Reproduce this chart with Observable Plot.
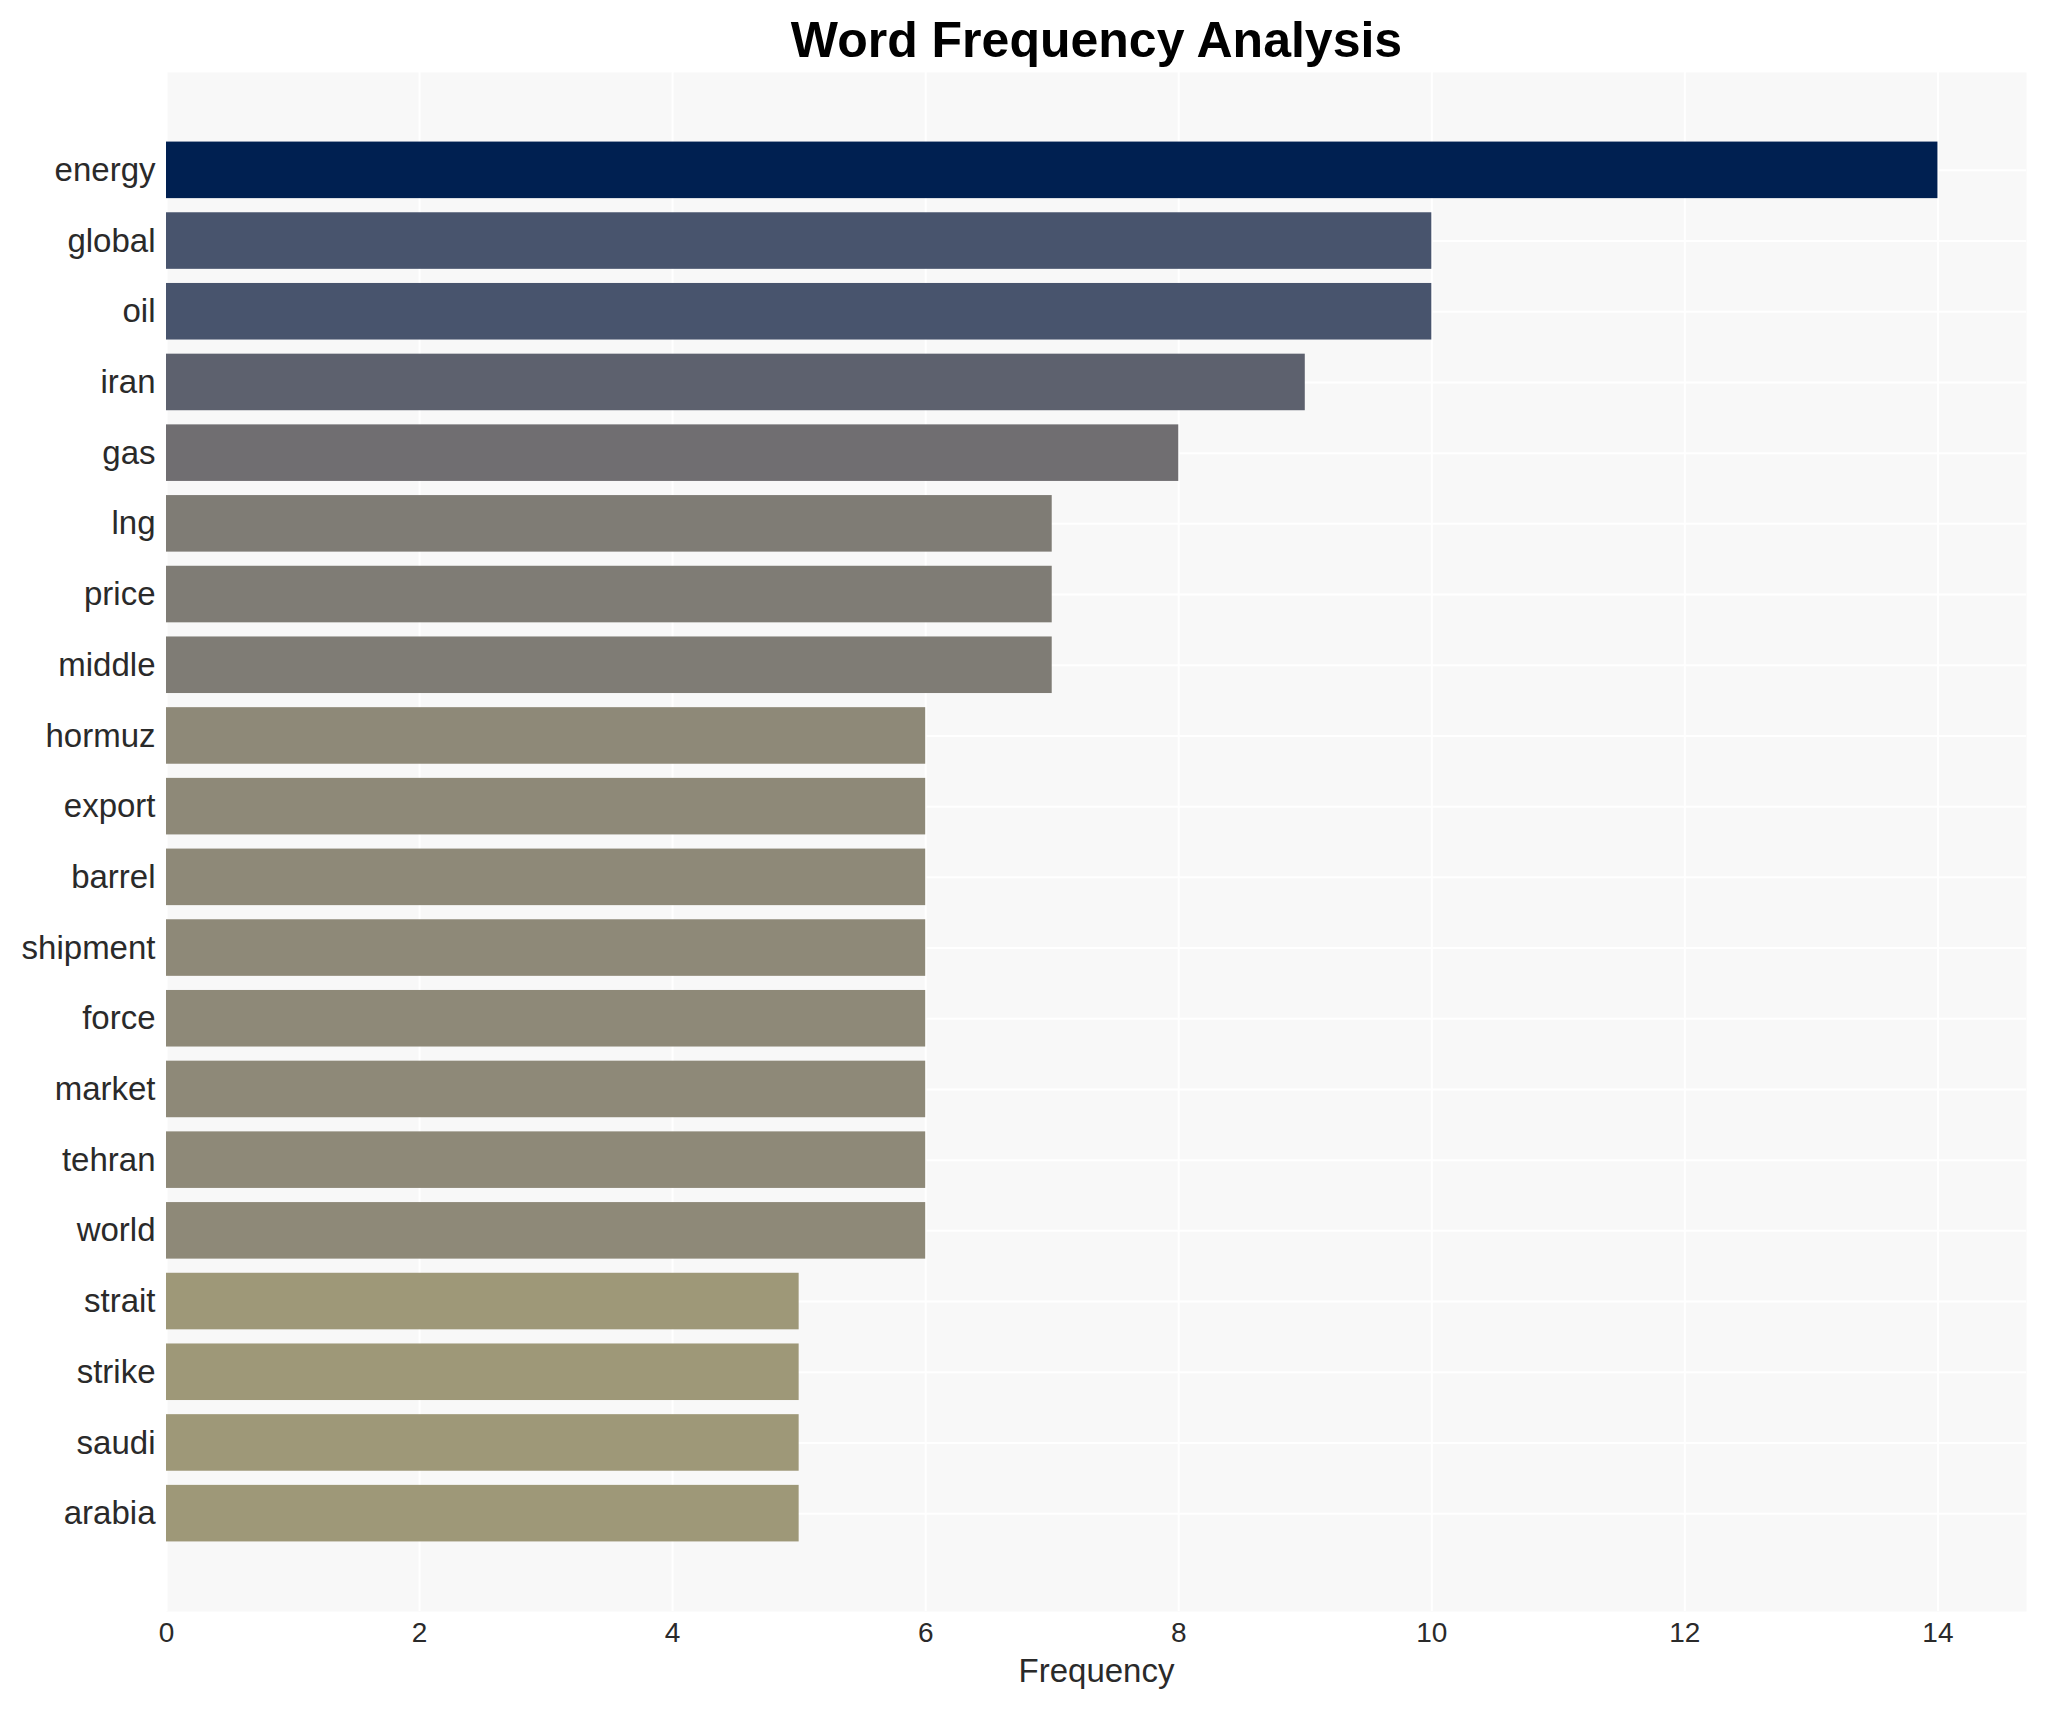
<!DOCTYPE html>
<html>
<head>
<meta charset="utf-8">
<script src="https://cdn.jsdelivr.net/npm/d3@7"></script>
<script src="https://cdn.jsdelivr.net/npm/@observablehq/plot@0.6"></script>
<style>
  html, body { margin: 0; padding: 0; background: #ffffff; overflow: hidden; }
  #chart svg { display: block; }
</style>
</head>
<body>
<div id="chart"></div>
<script>
const words = ["energy","global","oil","iran","gas","lng","price","middle","hormuz","export","barrel","shipment","force","market","tehran","world","strait","strike","saudi","arabia"];
const counts = [14,10,10,9,8,7,7,7,6,6,6,6,6,6,6,6,5,5,5,5];
const xTicks = [0,2,4,6,8,10,12,14];
const titleText = "Word Frequency Analysis";
const xTitle = "Frequency";

const data = words.map((w, i) => ({word: w, count: counts[i]}));
const font = "'Liberation Sans', Arial, Helvetica, sans-serif";
const textColor = "#2a2a2a";

const chart = Plot.plot({
  width: 2045,
  height: 1710,
  marginTop: 72,
  marginBottom: 99,
  marginLeft: 166,
  marginRight: 19,
  style: {fontFamily: font, background: "#ffffff", color: textColor},
  x: {domain: [0, 14.7], label: null},
  y: {domain: words, label: null, paddingInner: 0.2, paddingOuter: 0.1, insetTop: 62.5, insetBottom: 62.5, round: false},
  color: {type: "linear", scheme: "cividis", domain: [0, 14], reverse: true},
  marks: [
    Plot.frame({fill: "#f8f8f8", stroke: null}),
    Plot.gridX(xTicks, {stroke: "#ffffff", strokeOpacity: 1, strokeWidth: 2}),
    Plot.gridY({stroke: "#ffffff", strokeOpacity: 1, strokeWidth: 2}),
    Plot.barX(data, {y: "word", x: "count", fill: "count"}),
    Plot.axisX(xTicks, {tickSize: 0, tickPadding: 11, fontSize: 28, fill: textColor, label: null, tickFormat: d3.format("d")}),
    Plot.axisY({tickSize: 0, tickPadding: 11, fontSize: 33, fill: textColor, label: null}),
    Plot.text([titleText], {frameAnchor: "top", dy: -31.7, fontSize: 50, fontWeight: "bold", fill: "#000000", lineAnchor: "middle"}),
    Plot.text([xTitle], {frameAnchor: "bottom", dy: 60, fontSize: 33, fill: textColor, lineAnchor: "middle"})
  ]
});
document.getElementById("chart").appendChild(chart);
</script>
</body>
</html>
